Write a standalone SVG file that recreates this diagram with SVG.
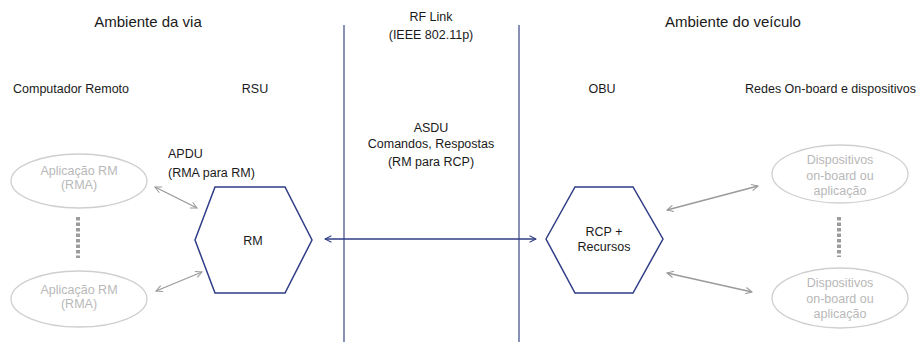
<svg xmlns="http://www.w3.org/2000/svg" width="917" height="347" viewBox="0 0 917 347">
<style>
text{font-family:"Liberation Sans",Arial,sans-serif;fill:#1a1a1a;font-size:12.5px}
.t{font-size:15px}
.g{fill:#b8b8b8}
.c{text-anchor:middle}
.ell{fill:#fff;stroke:#cfcfcf;stroke-width:1.3}
.hex{fill:#fff;stroke:#2f3d86;stroke-width:1.5}
.vl{stroke:#4a5590;stroke-width:1.3}
.ga{stroke:#9a9a9a;stroke-width:1.3;fill:none;marker-start:url(#gs);marker-end:url(#ge)}
.dash{stroke:#9c9c9c;stroke-width:4;stroke-dasharray:3.5,2}
</style>
<defs>
<marker id="ge" viewBox="0 0 10 10" refX="9" refY="5" markerWidth="8" markerHeight="8" orient="auto" markerUnits="userSpaceOnUse"><path d="M1,1 L9,5 L1,9" fill="none" stroke="#9a9a9a" stroke-width="1.3"/></marker>
<marker id="gs" viewBox="0 0 10 10" refX="1" refY="5" markerWidth="8" markerHeight="8" orient="auto" markerUnits="userSpaceOnUse"><path d="M9,1 L1,5 L9,9" fill="none" stroke="#9a9a9a" stroke-width="1.3"/></marker>
<marker id="be" viewBox="0 0 10 10" refX="9" refY="5" markerWidth="8" markerHeight="8" orient="auto" markerUnits="userSpaceOnUse"><path d="M1,1 L9,5 L1,9" fill="none" stroke="#2f3d86" stroke-width="1.3"/></marker>
<marker id="bs" viewBox="0 0 10 10" refX="1" refY="5" markerWidth="8" markerHeight="8" orient="auto" markerUnits="userSpaceOnUse"><path d="M9,1 L1,5 L9,9" fill="none" stroke="#2f3d86" stroke-width="1.3"/></marker>
</defs>
<rect width="917" height="347" fill="#fff"/>
<g id="labels">
<text class="t c" x="148" y="27">Ambiente da via</text>
<text class="t c" x="733" y="27">Ambiente do veículo</text>
<text class="c" x="431" y="21">RF Link</text>
<text class="c" x="431" y="39">(IEEE 802.11p)</text>
<text x="13" y="93">Computador Remoto</text>
<text class="c" x="255" y="93">RSU</text>
<text class="c" x="602" y="93">OBU</text>
<text x="745" y="93">Redes On-board e dispositivos</text>
<text class="c" x="431" y="132">ASDU</text>
<text class="c" x="431" y="148">Comandos, Respostas</text>
<text class="c" x="431" y="166">(RM para RCP)</text>
<text x="168" y="158">APDU</text>
<text x="168" y="177">(RMA para RM)</text>
</g>
<g id="boundaries">
<line class="vl" x1="344" y1="25" x2="344" y2="342"/>
<line class="vl" x1="519" y1="25" x2="519" y2="342"/>
</g>
<g id="connectors">
<line class="ga" x1="155" y1="187" x2="197" y2="208"/>
<line class="ga" x1="156" y1="291" x2="202" y2="272"/>
<line class="ga" x1="667" y1="210" x2="758" y2="186"/>
<line class="ga" x1="667" y1="273" x2="752" y2="292"/>
<line x1="325" y1="239" x2="536" y2="239" stroke="#2f3d86" stroke-width="1.3" marker-start="url(#bs)" marker-end="url(#be)"/>
<line class="dash" x1="78" y1="217" x2="78" y2="258"/>
<line class="dash" x1="839" y1="217" x2="839" y2="257"/>
</g>
<g id="rma1">
<ellipse class="ell" cx="79" cy="181" rx="68" ry="27"/>
<text class="c g" x="79" y="175">Aplicação RM</text>
<text class="c g" x="79" y="189">(RMA)</text>
</g>
<g id="rma2">
<ellipse class="ell" cx="79" cy="299" rx="68" ry="28"/>
<text class="c g" x="79" y="294">Aplicação RM</text>
<text class="c g" x="79" y="308">(RMA)</text>
</g>
<g id="rm">
<polygon class="hex" points="195,240 215,187 285,187 312,240 285,293 215,293"/>
<text class="c" x="253" y="245">RM</text>
</g>
<g id="rcp">
<polygon class="hex" points="546,239 575,187 633,187 663,239 633,293 575,293"/>
<text class="c" x="604" y="236">RCP +</text>
<text class="c" x="604" y="251">Recursos</text>
</g>
<g id="dev1">
<ellipse class="ell" cx="840" cy="174" rx="68" ry="29"/>
<text class="c g" x="840" y="164">Dispositivos</text>
<text class="c g" x="840" y="180">on-board ou</text>
<text class="c g" x="840" y="195">aplicação</text>
</g>
<g id="dev2">
<ellipse class="ell" cx="840" cy="298" rx="68" ry="30"/>
<text class="c g" x="840" y="287">Dispositivos</text>
<text class="c g" x="840" y="303">on-board ou</text>
<text class="c g" x="840" y="318">aplicação</text>
</g>
</svg>
